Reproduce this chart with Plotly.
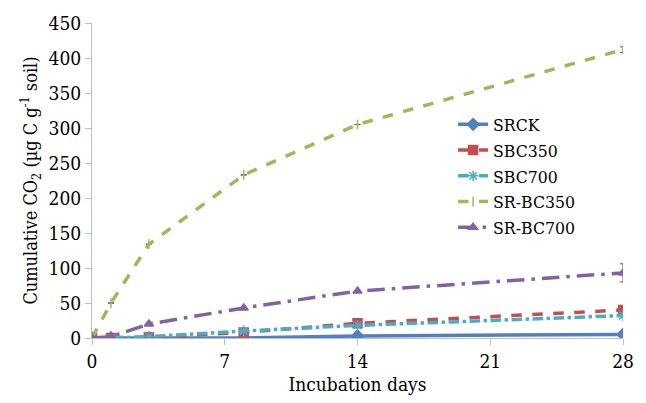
import plotly.graph_objects as go

days = [0, 1, 3, 8, 14, 28]
srck = [0, 0, 0, 0, 3, 5]
sbc350 = [0, 0, 1, 8, 21, 40]
sbc700 = [0, 0, 2, 10, 18, 32]
srbc350 = [0, 50, 134, 233, 305, 412]
srbc700 = [0, 2, 20, 43, 67, 93]
err350 = [0, 0, 0, 0, 0, 4]
err700 = [0, 0, 0, 0, 0, 13]

series = [
    ("SRCK", srck, "#4F81BD", "solid", "diamond", 9, None),
    ("SBC350", sbc350, "#C0504D", "dash", "square", 9, None),
    ("SBC700", sbc700, "#4BACC6", "dashdot", "asterisk-open", 9, None),
    ("SR-BC350", srbc350, "#9BBB59", "dash", "line-ns-open", 7, err350),
    ("SR-BC700", srbc700, "#8064A2", "longdashdot", "triangle-up", 8, err700),
]

fig = go.Figure()
for name, vals, col, dash, sym, sz, err in series:
    kw = {}
    if err is not None:
        kw["error_y"] = dict(type="data", array=err, visible=True, color="#555555", thickness=1, width=3)
    fig.add_trace(go.Scatter(
        x=days, y=vals, name=name, mode="lines+markers",
        line=dict(color=col, width=3.5, dash=dash),
        marker=dict(symbol=sym, size=sz, color=col, line=dict(color=col, width=1.5)),
        **kw))

font = "DejaVu Serif Condensed, DejaVu Serif"
fig.update_layout(
    width=646, height=403,
    margin=dict(l=92, r=18, t=19, b=62),
    paper_bgcolor="white", plot_bgcolor="white",
    font=dict(family=font, size=19, color="black"),
    showlegend=True,
    legend=dict(x=0.68, y=0.735, xanchor="left", yanchor="top",
                font=dict(family=font, size=17.5), bgcolor="rgba(0,0,0,0)",
                tracegroupgap=0, itemwidth=30),
    xaxis=dict(range=[0, 28], tickvals=[0, 7, 14, 21, 28], showgrid=False,
               showline=True, linecolor="#BFBFBF", linewidth=1,
               ticks="outside", ticklen=6, tickcolor="#BFBFBF", zeroline=False,
               tickfont=dict(family=font, size=19),
               title=dict(text="Incubation days", font=dict(family=font, size=19), standoff=6)),
    yaxis=dict(range=[0, 450], tickvals=list(range(0, 451, 50)), showgrid=False,
               showline=True, linecolor="#BFBFBF", linewidth=1,
               ticks="outside", ticklen=6, tickcolor="#BFBFBF", zeroline=False,
               tickfont=dict(family=font, size=19),
               title=dict(text="Cumulative CO<sub>2</sub> (µg C g<sup>-1</sup> soil)", font=dict(family=font, size=18), standoff=6)),
)
fig.write_html("out.html")
